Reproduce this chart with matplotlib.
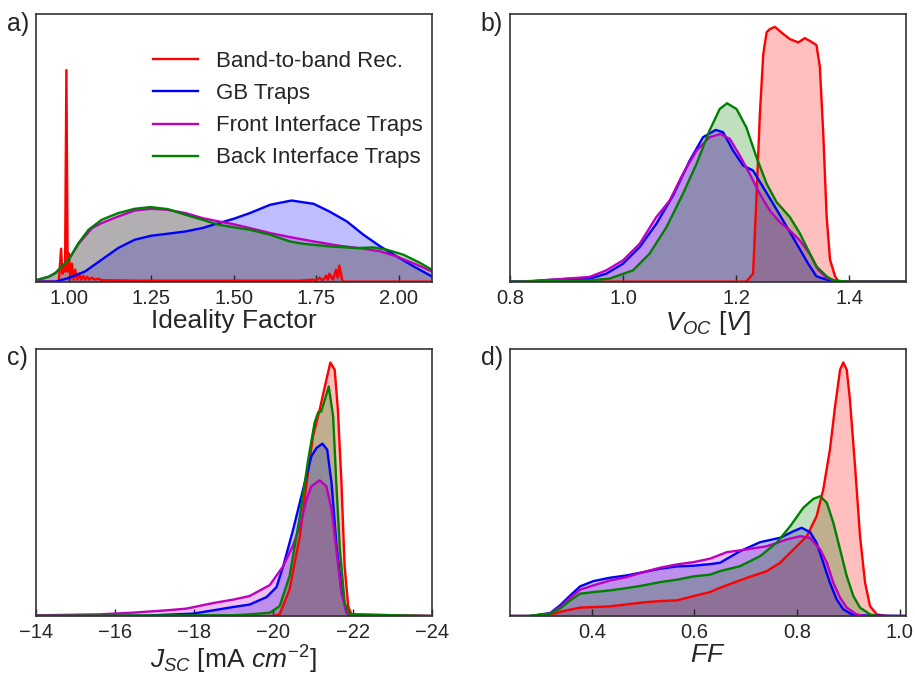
#! /usr/bin/env python3
import matplotlib
matplotlib.use("Agg")
import matplotlib.pyplot as plt

plt.rcParams['font.family'] = ['Liberation Sans', 'DejaVu Sans']
plt.rcParams['mathtext.fontset'] = 'custom'
plt.rcParams['mathtext.rm'] = 'Liberation Sans'
plt.rcParams['mathtext.it'] = 'Liberation Sans:italic'
plt.rcParams['text.color'] = '#262626'
plt.rcParams['axes.labelcolor'] = '#262626'
plt.rcParams['xtick.color'] = '#262626'

labels = ["Band-to-band Rec.", "GB Traps", "Front Interface Traps", "Back Interface Traps"]
colors = ["red", "blue", "m", "green"]

# ---- a) ideality factor (density, arbitrary units) ----
n_red_x = [0.90, 0.970, 0.977, 0.981, 0.985, 0.989, 0.993, 0.997, 1.001, 1.005, 1.010, 1.015,
           1.020, 1.026, 1.032, 1.038, 1.044, 1.050, 1.056, 1.062, 1.070, 1.080, 1.090, 1.100,
           1.20, 1.40, 1.60, 1.70, 1.740, 1.750, 1.760, 1.770, 1.780, 1.785, 1.790, 1.800,
           1.810, 1.815, 1.820, 1.830, 2.10]
n_red = [0, 0, 33, 8, 15, 10, 212, 10, 28, 3, 18, 2,
         12, 2, 8, 2, 6, 2, 5, 2, 4, 2, 3, 1.5,
         1, 1, 1, 1, 2, 1, 4, 1, 6, 2, 8, 2,
         12, 4, 16, 0, 0]
n_gb_x = [0.90, 0.96, 1.00, 1.05, 1.10, 1.15, 1.20, 1.25, 1.30, 1.354, 1.405, 1.455, 1.50,
          1.549, 1.61, 1.675, 1.742, 1.79, 1.843, 1.893, 1.944, 1.994, 2.045, 2.10]
n_gb = [0, 0, 3.7, 10.3, 22, 33.7, 42, 46, 48, 50.3, 53.7, 58.7, 63,
        68.7, 77, 81.3, 78, 70.3, 60.3, 47, 35.3, 25.3, 15.3, 5.3]
n_front_x = [0.90, 0.94, 0.96, 1.00, 1.03, 1.071, 1.10, 1.15, 1.20, 1.25, 1.30, 1.354, 1.405,
             1.455, 1.50, 1.549, 1.61, 1.67, 1.742, 1.82, 1.893, 1.944, 1.994, 2.055, 2.10]
n_front = [1, 5, 8.7, 22, 38, 53.7, 58.7, 65.3, 71.3, 73, 72, 68.7, 63.7,
           60.3, 57.5, 53.7, 48.7, 44.7, 40.3, 36, 33, 30.3, 25.3, 17, 10.3]
n_back_x = [0.90, 0.94, 0.96, 1.00, 1.03, 1.06, 1.10, 1.15, 1.20, 1.248, 1.30, 1.354, 1.405,
            1.455, 1.50, 1.549, 1.61, 1.67, 1.71, 1.79, 1.873, 1.923, 1.964, 2.014, 2.065, 2.10]
n_back = [1.5, 5, 8.7, 22, 38.7, 52, 62, 68.7, 73, 74.7, 72.7, 67, 62,
          57, 54.5, 52, 47, 40.3, 38, 35.3, 33.7, 34.3, 32, 27, 18.7, 12]

# ---- b) Voc [V] ----
v_red_x = [0.80, 1.12, 1.218, 1.230, 1.236, 1.242, 1.248, 1.254, 1.2597, 1.2685, 1.280, 1.295,
           1.310, 1.3215, 1.333, 1.342, 1.348, 1.354, 1.360, 1.366, 1.375, 1.381, 1.50]
v_red = [0, 0, 0, 8, 84.7, 168, 228, 250, 253, 255.3, 249.7, 243,
         239.7, 244, 240.3, 237, 215.3, 148.7, 65.3, 22, 5.3, 0, 0]
v_gb_x = [0.80, 0.84, 0.90, 0.941, 0.9706, 1.000, 1.0296, 1.059, 1.0885, 1.118, 1.1416, 1.164,
          1.177, 1.1947, 1.2124, 1.230, 1.2478, 1.2655, 1.283, 1.307, 1.3274, 1.342, 1.360,
          1.370, 1.40, 1.50]
v_gb = [0, 0.5, 2.7, 3, 8, 18, 34.7, 58, 86.3, 121.3, 144.7, 152,
        149.7, 131.3, 116.3, 111.3, 94.7, 78, 61.3, 38, 18, 5.3, 2,
        0.5, 0, 0]
v_front_x = [0.80, 0.84, 0.90, 0.941, 0.9706, 1.000, 1.0296, 1.059, 1.0826, 1.106, 1.130, 1.153,
             1.1724, 1.1889, 1.2066, 1.224, 1.2418, 1.2595, 1.277, 1.295, 1.3126, 1.330, 1.345,
             1.360, 1.375, 1.40, 1.50]
v_front = [0, 0.7, 3, 4.7, 11.3, 21.3, 38, 64.7, 81.3, 108, 131.3, 144.7,
           148, 143, 126.3, 108, 88, 71.3, 59.7, 51.3, 41.3, 28, 12,
           4, 1, 0, 0]
v_back_x = [0.80, 0.90, 0.941, 0.976, 1.0177, 1.047, 1.077, 1.106, 1.130, 1.153, 1.171, 1.184,
            1.2007, 1.218, 1.236, 1.254, 1.2715, 1.295, 1.313, 1.3305, 1.342, 1.360, 1.372,
            1.40, 1.50]
v_back = [0, 0.8, 1.3, 3, 11.3, 28, 54.7, 88, 118, 151.3, 173, 178.7,
          173, 154.7, 124.7, 98, 79.7, 64.7, 48, 28, 15.3, 5.3, 1,
          0, 0]

# ---- c) Jsc [mA cm^-2] ----
j_red_x = [-14.0, -20.0, -20.16, -20.41, -20.67, -20.84, -21.0, -21.17, -21.32, -21.44, -21.55,
           -21.63, -21.72, -21.80, -21.89, -21.97, -24.0]
j_red = [0, 0, 1.7, 26.7, 80, 133.3, 180, 206.7, 233.3, 254, 246.7,
         206.7, 133.3, 50, 10, 1.7, 0]
j_gb_x = [-14.0, -16.71, -17.97, -18.48, -18.98, -19.40, -19.83, -20.08, -20.25, -20.50, -20.75,
          -20.96, -21.09, -21.24, -21.36, -21.47, -21.59, -21.72, -21.85, -22.0, -24.0]
j_gb = [0, 0.3, 2.4, 5.7, 9, 11.5, 19, 29, 50, 86.7, 126.7,
        160, 168.4, 172.7, 166.7, 133.3, 73.3, 26.7, 3.3, 0, 0]
j_front_x = [-14.0, -15.62, -16.46, -17.3, -17.8, -18.48, -18.98, -19.40, -19.91, -20.25, -20.5,
             -20.67, -20.84, -20.96, -21.17, -21.34, -21.47, -21.59, -21.72, -21.85, -22.0, -24.0]
j_front = [0.7, 1.7, 3.4, 5.7, 7.4, 13, 16.4, 20, 31, 50, 71,
           90, 116.7, 130, 136, 130, 106.7, 66.7, 23.3, 3.3, 0.7, 0]
j_back_x = [-14.0, -19.0, -19.40, -19.91, -20.16, -20.41, -20.67, -20.88, -21.04, -21.13, -21.21,
            -21.30, -21.40, -21.51, -21.59, -21.68, -21.80, -21.93, -24.0]
j_back = [0.3, 0.8, 1.7, 3.3, 10, 40, 100, 156.7, 193.3, 204, 205,
          216.7, 230, 200, 133.3, 66.7, 13.3, 1.7, 0]

# ---- d) FF ----
f_red_x = [0.24, 0.28, 0.325, 0.351, 0.377, 0.403, 0.4357, 0.468, 0.5005, 0.533, 0.5656, 0.598,
           0.6305, 0.6435, 0.676, 0.7084, 0.741, 0.767, 0.793, 0.819, 0.838, 0.851, 0.864,
           0.874, 0.8838, 0.890, 0.8968, 0.903, 0.913, 0.9227, 0.9325, 0.9422, 0.955, 0.975, 1.01]
f_red = [0, 0, 2.4, 5.7, 8.4, 9, 9.7, 11.7, 13.7, 15, 15.7, 20,
         24, 27, 33.4, 39.4, 45, 53.4, 66.7, 80, 100, 126.7, 166.7,
         210, 246.7, 254, 246.7, 216.7, 150, 80, 33.4, 10, 1.7, 0, 0]
f_gb_x = [0.24, 0.28, 0.319, 0.338, 0.358, 0.377, 0.403, 0.4357, 0.468, 0.5005, 0.533, 0.5656,
          0.598, 0.6305, 0.6499, 0.689, 0.728, 0.767, 0.793, 0.809, 0.8253, 0.838, 0.851, 0.864,
          0.877, 0.890, 0.91, 1.01]
f_gb = [0, 0, 3, 10.7, 20.7, 29.7, 35, 38.4, 40.7, 44, 47.4, 49.7,
        50.4, 52, 53.4, 65, 74, 78.4, 85, 88.4, 84, 73.4, 53.4, 33.4,
        16.7, 6.7, 0.7, 0]
f_front_x = [0.24, 0.28, 0.319, 0.338, 0.358, 0.377, 0.403, 0.4357, 0.468, 0.5005, 0.533, 0.5656,
             0.598, 0.6305, 0.663, 0.702, 0.741, 0.78, 0.806, 0.8253, 0.845, 0.858, 0.8707, 0.8838,
             0.8968, 0.916, 0.93, 1.01]
f_front = [0, 0, 2.4, 9, 18.4, 26.4, 30.7, 35.7, 39, 44, 48.4, 51.7,
           54, 57.5, 64, 66.7, 70, 76.7, 80, 78.4, 66.7, 53.4, 33.4, 18.4,
           8.4, 1.7, 0, 0]
f_back_x = [0.24, 0.274, 0.319, 0.338, 0.358, 0.377, 0.403, 0.4357, 0.468, 0.5005, 0.533, 0.5656,
            0.598, 0.6305, 0.6499, 0.689, 0.728, 0.760, 0.7866, 0.812, 0.8317, 0.845, 0.858, 0.8707,
            0.8838, 0.8968, 0.9097, 0.9227, 0.9422, 0.955, 1.01]
f_back = [0, 0, 2.4, 7.4, 15.7, 22.4, 24, 25.7, 28, 30.7, 34, 36.4,
          39.7, 41.5, 45, 50, 60, 73.4, 90, 108.4, 117.4, 120, 113.4, 93.4,
          66.7, 40, 20, 8.4, 1.7, 0, 0]

panels = [
    ("a)", [(n_red_x, n_red), (n_gb_x, n_gb), (n_front_x, n_front), (n_back_x, n_back)],
     (0.9, 2.1), [1.0, 1.25, 1.5, 1.75, 2.0], "{:.2f}", "Ideality Factor"),
    ("b)", [(v_red_x, v_red), (v_gb_x, v_gb), (v_front_x, v_front), (v_back_x, v_back)],
     (0.8, 1.5), [0.8, 1.0, 1.2, 1.4], "{:.1f}", r"$V_{OC}$ $[V]$"),
    ("c)", [(j_red_x, j_red), (j_gb_x, j_gb), (j_front_x, j_front), (j_back_x, j_back)],
     (-14, -24), [-14, -16, -18, -20, -22, -24], "{:.0f}", r"$J_{SC}$ [mA $cm^{-2}$]"),
    ("d)", [(f_red_x, f_red), (f_gb_x, f_gb), (f_front_x, f_front), (f_back_x, f_back)],
     (0.24, 1.012), [0.4, 0.6, 0.8, 1.0], "{:.1f}", r"$FF$"),
]

fig, axes = plt.subplots(2, 2, figsize=(9.15, 6.74), dpi=100)
plt.subplots_adjust(left=0.039, right=0.990, top=0.979, bottom=0.086, wspace=0.197, hspace=0.25)

for ax, (tag, series, xlim, ticks, fmt, xlabel) in zip(axes.flat, panels):
    for (xs, ys), c, lab in zip(series, colors, labels):
        ax.fill_between(xs, ys, color=c, alpha=0.25, linewidth=0)
        ax.plot(xs, ys, color=c, lw=1.7, label=lab)
    ax.set_xlim(*xlim)
    ax.set_ylim(0, 268)
    ax.set_yticks([])
    ax.set_xticks(ticks)
    ax.set_xticklabels([fmt.format(t).replace("-", "\u2212") for t in ticks])
    ax.tick_params(axis="x", direction="in", length=5, width=1, labelsize=14.5, pad=5)
    ax.set_xlabel(xlabel, fontsize=19, labelpad=1)
    for s in ax.spines.values():
        s.set_color("#333333")
        s.set_linewidth(1.2)
    ax.text(-0.073, 0.965, tag, transform=ax.transAxes, fontsize=18, ha="left", va="center")

axes[0, 0].legend(loc="upper left", bbox_to_anchor=(0.275, 0.895), frameon=False, fontsize=16,
                  handlelength=2.0, handletextpad=0.8, labelspacing=0.5, borderaxespad=0)

plt.savefig("out.png", dpi=100)
